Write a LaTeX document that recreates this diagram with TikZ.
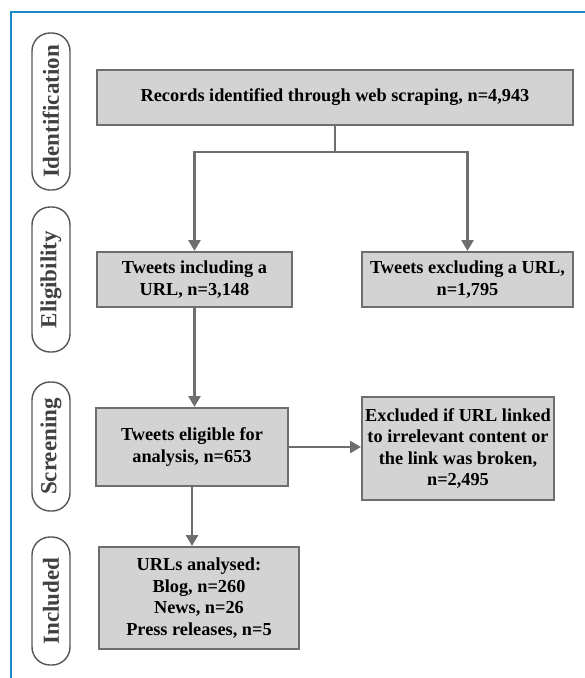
\documentclass[tikz,border=0pt]{standalone}
\usepackage{fontspec}
\setmainfont{Liberation Serif}
\usetikzlibrary{arrows.meta}
\definecolor{frameblue}{HTML}{1A8AC6}
\definecolor{boxfill}{HTML}{D3D3D3}
\definecolor{boxdraw}{HTML}{6E6E6E}
\definecolor{lbldraw}{HTML}{555555}
\tikzset{
  stagebox/.style={draw=boxdraw, line width=2pt, fill=boxfill, align=center, inner sep=2pt,
    font=\fontsize{18.3}{21.5}\selectfont\bfseries},
  phaselabel/.style={draw=lbldraw, line width=1.4pt, fill=white, rounded corners=18pt,
    rotate=90, minimum height=38pt, inner sep=0pt,
    font=\fontsize{23}{25}\selectfont\bfseries, text=black!75},
  conn/.style={draw=boxdraw, line width=2.5pt},
  arr/.style={conn, -{Triangle[length=11pt,width=12pt]}},
  frameline/.style={draw=frameblue, line width=2.4pt}
}
\begin{document}
\begin{tikzpicture}[x=1pt,y=-1pt]
\useasboundingbox (0,0) rectangle (585,678);
% frame
\coordinate (fbl) at (11,679);
\coordinate (ftl) at (11,12);
\coordinate (ftr) at (586,12);
\draw[frameline] (fbl) -- (ftl) -- (ftr);
% phase labels
\node[phaselabel, minimum width=157pt] (lid) at (51,111.5) {Identification};
\node[phaselabel, minimum width=145pt] (lel) at (51,279.5) {Eligibility};
\node[phaselabel, minimum width=129pt] (lsc) at (51,446.5) {Screening};
\node[phaselabel, minimum width=128pt] (lin) at (51,601) {Included};
% boxes
\node[stagebox, minimum width=476pt, minimum height=55pt] (rec) at (335,97.5)
  {Records identified through web scraping, n=4,943};
\node[stagebox, minimum width=195pt, minimum height=55pt] (incl) at (194.5,279.5)
  {Tweets including a\\URL, n=3,148};
\node[stagebox, minimum width=211pt, minimum height=55pt] (excl) at (467.5,279.5)
  {Tweets excluding a URL,\\n=1,795};
\node[stagebox, minimum width=192pt, minimum height=78pt] (elig) at (192,447)
  {Tweets eligible for\\analysis, n=653};
\node[stagebox, minimum width=192pt, minimum height=103pt] (broken) at (458,448.5)
  {Excluded if URL linked\\to irrelevant content or\\the link was broken,\\n=2,495};
\node[stagebox, minimum width=200pt, minimum height=102pt] (urls) at (199,598)
  {URLs analysed:\\Blog, n=260\\News, n=26\\Press releases, n=5};
% connectors
\coordinate (split) at (335,152);
\draw[conn] (rec.south) -- (split);
\draw[arr] (split) -| (incl.north);
\draw[arr] (split) -| (excl.north);
\draw[arr] (incl.south) -- (incl.south |- elig.north);
\draw[arr] (elig.east) -- (elig.east -| broken.west);
\draw[arr] (elig.south) -- (elig.south |- urls.north);
\end{tikzpicture}
\end{document}
